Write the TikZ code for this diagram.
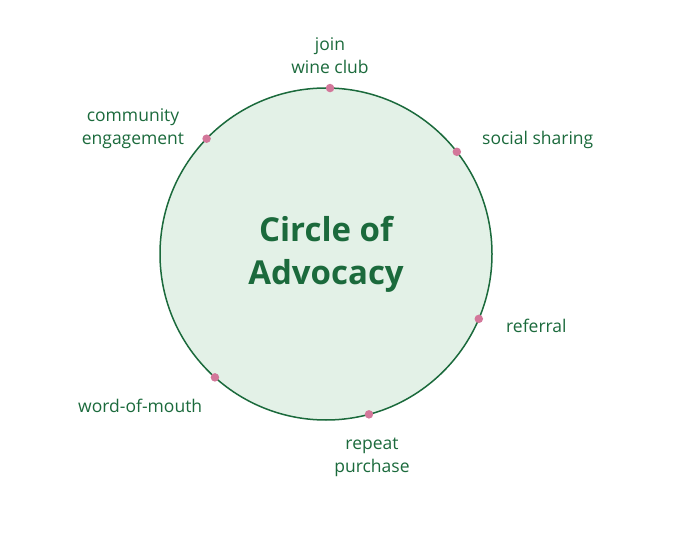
\documentclass[tikz,border=0pt]{standalone}
\usepackage{fontspec}
\setmainfont{Open Sans}
\usetikzlibrary{positioning,calc}

\definecolor{advgreen}{HTML}{1B6A3C}
\definecolor{advfill}{HTML}{E3F1E7}
\definecolor{advpink}{HTML}{D3779A}

\tikzset{
  step dot/.style={circle, fill=advpink, inner sep=0pt, minimum size=8.5pt},
  step label/.style={text=advgreen, font=\fontsize{17.5}{23}\selectfont, align=center, inner sep=0pt}
}

\begin{document}
\begin{tikzpicture}[x=1pt, y=-1pt]

    % --- Canvas ---
    \useasboundingbox (0,0) rectangle (685,537);

    % --- 1. Main Circle ---
    \coordinate (Centre) at (326,254);
    \draw[advgreen, fill=advfill, line width=1.5pt] (Centre) circle (166);
    \node[text=advgreen, font=\fontsize{33}{43}\selectfont\bfseries, align=center] (Title) at (326,254)
        {Circle of\\Advocacy};

    % --- 2. Steps on the circle ---
    \node[step dot] (Join)      at ($(Centre)+(-88.6:166)$) {};
    \node[step dot] (Sharing)   at ($(Centre)+(-38:166)$) {};
    \node[step dot] (Referral)  at ($(Centre)+(23:166)$) {};
    \node[step dot] (Repeat)    at ($(Centre)+(75:166)$) {};
    \node[step dot] (WordMouth) at ($(Centre)+(132:166)$) {};
    \node[step dot] (Community) at ($(Centre)+(-136:166)$) {};

    % --- 3. Step labels ---
    \node[step label] (JoinText)      at (330,56)  {join\\wine club};
    \node[step label, anchor=west] (SharingText)   at (482,140) {social sharing};
    \node[step label, anchor=west] (ReferralText)  at (506,326) {referral};
    \node[step label] (RepeatText)    at (372,457) {repeat\\purchase};
    \node[step label, anchor=west] (WordMouthText) at (78,406)  {word-of-mouth};
    \node[step label] (CommunityText) at (133,129) {community\\engagement};

\end{tikzpicture}
\end{document}
